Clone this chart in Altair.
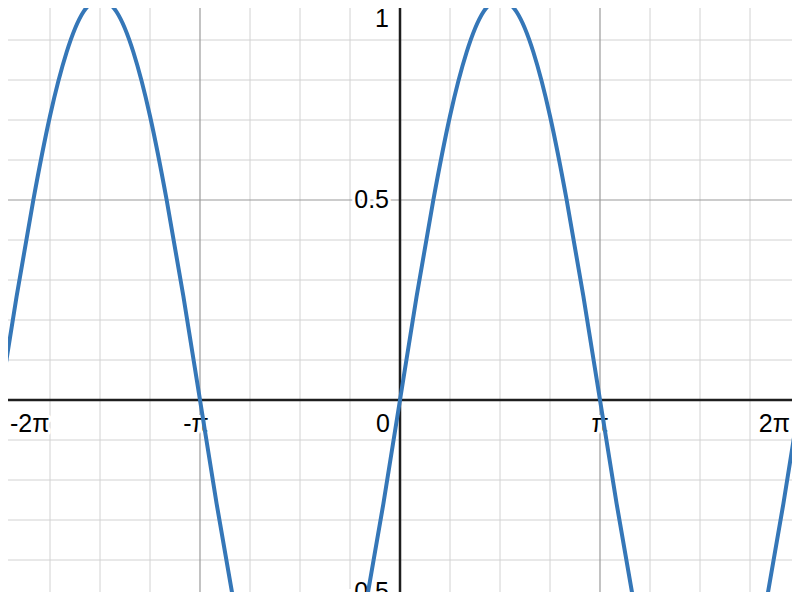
import math
import altair as alt
import pandas as pd

PI = math.pi

# ---- data ----
# curve samples: x in units of pi/12, y values
X_TWELFTHS_PI = [-24, -23, -22, -21, -20, -19, -18, -17, -16, -15, -14, -13, -12,
                 -11, -10, -9, -8, -7, -6, -5, -4, -3, -2, -1, 0,
                 1, 2, 3, 4, 5, 6, 7, 8, 9, 10, 11, 12,
                 13, 14, 15, 16, 17, 18, 19, 20, 21, 22, 23, 24]
Y_VALUES = [0.0, 0.26, 0.5, 0.71, 0.87, 0.97, 1.0, 0.97, 0.87, 0.71, 0.5, 0.26, 0.0,
            -0.26, -0.5, -0.71, -0.87, -0.97, -1.0, -0.97, -0.87, -0.71, -0.5, -0.26, 0.0,
            0.26, 0.5, 0.71, 0.87, 0.97, 1.0, 0.97, 0.87, 0.71, 0.5, 0.26, 0.0,
            -0.26, -0.5, -0.71, -0.87, -0.97, -1.0, -0.97, -0.87, -0.71, -0.5, -0.26, 0.0]

# grid (in units of pi for x)
X_MINOR_PI = [-1.75, -1.5, -1.25, -0.75, -0.5, -0.25, 0.25, 0.5, 0.75, 1.25, 1.5, 1.75]
X_MAJOR_PI = [-1.0, 1.0]
Y_MINOR = [-0.4, -0.3, -0.2, -0.1, 0.1, 0.2, 0.3, 0.4, 0.6, 0.7, 0.8, 0.9]
Y_MAJOR = [0.5]
AXIS_AT = [0.0]

# tick labels
X_LABEL_PI = [-2, -1, 0, 1, 2]
X_LABEL_TEXT = ["-2π", "-π", "0", "π", "2π"]
Y_LABEL_VALUES = [1.0, 0.5, -0.5]
Y_LABEL_TEXT = ["1", "0.5", "-0.5"]

# ---- tables ----
curve = pd.DataFrame({"x": [k * PI / 12 for k in X_TWELFTHS_PI], "y": Y_VALUES})
xminor = pd.DataFrame({"x": [v * PI for v in X_MINOR_PI]})
xmajor = pd.DataFrame({"x": [v * PI for v in X_MAJOR_PI]})
yminor = pd.DataFrame({"y": Y_MINOR})
ymajor = pd.DataFrame({"y": Y_MAJOR})
axis0 = pd.DataFrame({"v": AXIS_AT})
xlab = pd.DataFrame({"x": [v * PI for v in X_LABEL_PI], "y": [0.0] * len(X_LABEL_PI),
                     "t": X_LABEL_TEXT})
ylab = pd.DataFrame({"x": [0.0] * len(Y_LABEL_VALUES), "y": Y_LABEL_VALUES,
                     "t": Y_LABEL_TEXT})

XHALF = 1.96 * PI
xs = alt.Scale(domain=[-XHALF, XHALF], nice=False, zero=False)
ys = alt.Scale(domain=[-0.48, 0.98], nice=False, zero=False)

FONT = "Liberation Sans, Arial, sans-serif"
FS = 25


def X(f):
    return alt.X(f"{f}:Q", scale=xs, axis=None)


def Y(f):
    return alt.Y(f"{f}:Q", scale=ys, axis=None)


layers = []
layers.append(alt.Chart(xminor).mark_rule(color="#d2d2d2", strokeWidth=1).encode(x=X("x")))
layers.append(alt.Chart(yminor).mark_rule(color="#d2d2d2", strokeWidth=1).encode(y=Y("y")))
layers.append(alt.Chart(xmajor).mark_rule(color="#9a9a9a", strokeWidth=1.2).encode(x=X("x")))
layers.append(alt.Chart(ymajor).mark_rule(color="#9a9a9a", strokeWidth=1.2).encode(y=Y("y")))
layers.append(alt.Chart(axis0).mark_rule(color="#1e1e1e", strokeWidth=2.5).encode(x=X("v")))
layers.append(alt.Chart(axis0).mark_rule(color="#1e1e1e", strokeWidth=2.5).encode(y=Y("v")))


def text_layers(df, labels, align, dx, dy):
    base = alt.Chart(df).transform_filter(
        alt.FieldOneOfPredicate(field="t", oneOf=labels)
    ).encode(x=X("x"), y=Y("y"), text="t:N")
    halo = base.mark_text(align=align, baseline="alphabetic", dx=dx, dy=dy, font=FONT,
                          fontSize=FS, fill="white", stroke="white", strokeWidth=6,
                          strokeJoin="round")
    fg = base.mark_text(align=align, baseline="alphabetic", dx=dx, dy=dy, font=FONT,
                        fontSize=FS, fill="black")
    return [halo, fg]


layers += text_layers(xlab, ["-2π"], "left", 10, 32)
layers += text_layers(xlab, ["-π"], "center", -4, 32)
layers += text_layers(xlab, ["π"], "center", 0, 32)
layers += text_layers(xlab, ["0"], "right", -10, 32)
layers += text_layers(xlab, ["2π"], "right", -10, 32)
layers += text_layers(ylab, ["1"], "right", -11, 27)
layers += text_layers(ylab, ["0.5"], "right", -11, 8)
layers += text_layers(ylab, ["-0.5"], "right", -11, 0)

layers.append(alt.Chart(curve).mark_line(color="#3577b8", strokeWidth=4,
                                         interpolate="natural", clip=True)
              .encode(x=X("x"), y=Y("y")))

chart = alt.layer(*layers).properties(
    width=784, height=584, padding=0, autosize="none", background="white"
).configure_view(stroke=None)

chart.save("out.html", embed_options={"renderer": "svg", "actions": False})
